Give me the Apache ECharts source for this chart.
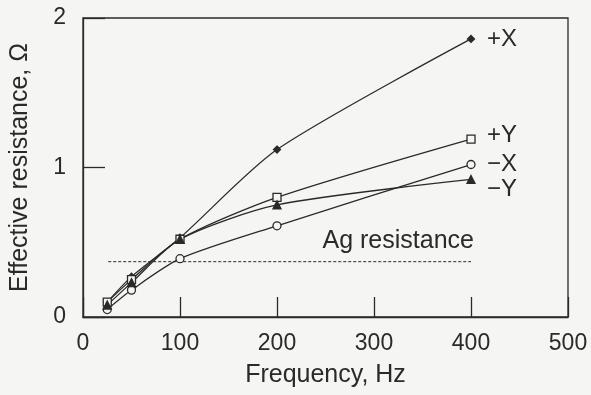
<!DOCTYPE html>
<html>
<head>
<meta charset="utf-8">
<script src="https://cdn.jsdelivr.net/npm/echarts@6/dist/echarts.min.js"></script>
<style>
  html, body { margin: 0; padding: 0; background: #f5f5f3; }
  #main { width: 591px; height: 395px; }
</style>
</head>
<body>
<div id="main"></div>
<script>
// 频率 (Hz) 和各方向的等效电阻
var freq = [25, 50, 100, 200, 400];
var plusX = [0.10, 0.27, 0.53, 1.12, 1.86];
var plusY = [0.10, 0.25, 0.52, 0.80, 1.19];
var minusX = [0.05, 0.18, 0.39, 0.61, 1.02];
var minusY = [0.08, 0.23, 0.52, 0.75, 0.92];
var agX = [26, 400];
var agY = [0.37, 0.37];
var xTicks = [0, 100, 200, 300, 400, 500];
var yTicks = [0, 1, 2];

function pairs(xs, ys) {
  return xs.map(function (x, i) { return [x, ys[i]]; });
}

var ink = '#2a2a2a';
var bg = '#f5f5f3';
var font = 'Liberation Sans, Arial, sans-serif';
var chart = echarts.init(document.getElementById('main'));

function curve(name, data, symbol, filled, labelOffset) {
  return {
    name: name,
    type: 'line',
    data: pairs(freq, data),
    smooth: 0.25,
    symbol: symbol,
    symbolSize: symbol === 'diamond' ? 7 : 8,
    showAllSymbol: true,
    lineStyle: { color: ink, width: 1.3 },
    itemStyle: { color: filled ? ink : bg, borderColor: ink, borderWidth: 1.3 },
    endLabel: {
      show: true,
      formatter: name,
      color: ink,
      fontSize: 24,
      fontFamily: font,
      distance: 16,
      offset: labelOffset
    }
  };
}

chart.setOption({
  backgroundColor: bg,
  animation: false,
  grid: {
    left: 82,
    right: 23,
    top: 18,
    bottom: 78,
    show: true,
    borderColor: ink,
    borderWidth: 1.3,
    backgroundColor: 'transparent'
  },
  xAxis: {
    type: 'value',
    min: 0,
    max: 500,
    interval: 100,
    name: 'Frequency, Hz',
    nameLocation: 'middle',
    nameGap: 46,
    nameTextStyle: { color: ink, fontSize: 25, fontFamily: font },
    axisLine: { lineStyle: { color: ink, width: 1.3 } },
    axisTick: { inside: true, length: 20, lineStyle: { color: ink, width: 1.3 } },
    axisLabel: { color: ink, fontSize: 23, margin: 15, fontFamily: font },
    splitLine: { show: false }
  },
  yAxis: {
    type: 'value',
    min: 0,
    max: 2,
    interval: 1,
    name: 'Effective resistance, \u03A9',
    nameLocation: 'middle',
    nameGap: 50,
    nameTextStyle: { color: ink, fontSize: 25, fontFamily: font },
    axisLine: { lineStyle: { color: ink, width: 1.3 } },
    axisTick: { inside: true, length: 22, lineStyle: { color: ink, width: 1.3 } },
    axisLabel: { color: ink, fontSize: 23, margin: 17, fontFamily: font },
    splitLine: { show: false }
  },
  series: [
    curve('+X', plusX, 'diamond', true, [0, 0]),
    curve('+Y', plusY, 'rect', false, [0, -4]),
    curve('\u2212X', minusX, 'circle', false, [0, 0]),
    curve('\u2212Y', minusY, 'triangle', true, [0, 10]),
    {
      name: 'Ag resistance',
      type: 'line',
      data: pairs(agX, agY),
      symbol: 'none',
      lineStyle: { color: ink, width: 1, type: [3, 2] },
      markPoint: {
        symbol: 'circle',
        symbolSize: 1,
        itemStyle: { color: 'transparent' },
        data: [{ coord: [325, agY[0]] }],
        label: {
          show: true,
          position: 'inside',
          formatter: 'Ag resistance',
          color: ink,
          fontSize: 25,
          fontFamily: font,
          offset: [0, -21]
        }
      }
    }
  ]
});
</script>
</body>
</html>
